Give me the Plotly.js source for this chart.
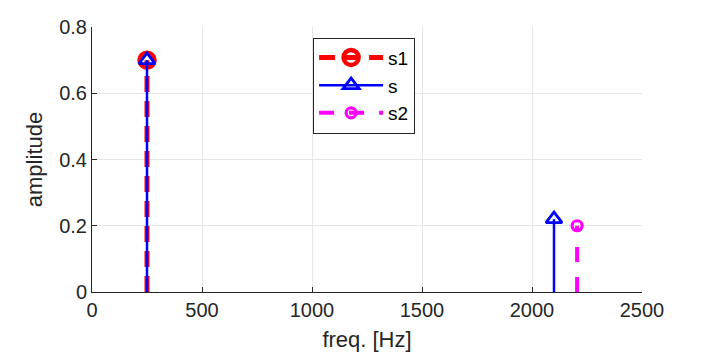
<!DOCTYPE html>
<html>
<head>
<meta charset="utf-8">
<script src="https://cdn.plot.ly/plotly-3.0.1.min.js"></script>
<style>html,body{margin:0;padding:0;background:#fff;}#chart{width:709px;height:354px;}</style>
</head>
<body>
<div id="chart"></div>
<script>
// Data
const seriesNames = ["s1", "s", "s2"];
const freqS1 = [250];
const ampS1 = [0.7];
const freqS = [250, 2100];
const ampS = [0.7, 0.22];
const freqS2 = [2205];
const ampS2 = [0.2];
const xTicks = [0, 500, 1000, 1500, 2000, 2500];
const yTicks = [0, 0.2, 0.4, 0.6, 0.8];

function stemXY(xs, ys) {
  const sx = [], sy = [];
  xs.forEach((x, i) => { sx.push(x, x, null); sy.push(0, ys[i], null); });
  return {x: sx, y: sy};
}
function gapXY(xs, ys) {
  const gx = [], gy = [];
  xs.forEach((x, i) => { gx.push(x, null); gy.push(ys[i], null); });
  return {x: gx, y: gy};
}

const styles = [
  {color: "#ff0000", width: 5, dash: "16px,9px", symbol: "circle-open", size: 15, mlw: 4.5},
  {color: "#0000ff", width: 2.5, dash: "solid", symbol: "triangle-up-open", size: 14, mlw: 2.8},
  {color: "#ff00ff", width: 4, dash: "15px,15px", symbol: "circle-open", size: 10, mlw: 3.2}
];
const sets = [[freqS1, ampS1], [freqS, ampS], [freqS2, ampS2]];

const traces = [];
sets.forEach((d, i) => {
  const st = styles[i];
  const stem = stemXY(d[0], d[1]);
  traces.push({
    x: stem.x, y: stem.y, type: "scatter", mode: "lines",
    line: {color: st.color, width: st.width, dash: st.dash},
    showlegend: false, hoverinfo: "skip", cliponaxis: true
  });
  const pts = gapXY(d[0], d[1]);
  traces.push({
    x: pts.x, y: pts.y, type: "scatter", mode: "lines+markers",
    name: seriesNames[i], connectgaps: false,
    line: {color: st.color, width: st.width, dash: st.dash},
    marker: {symbol: st.symbol, size: st.size, color: st.color, line: {color: st.color, width: st.mlw}},
    cliponaxis: false
  });
});

const axisCommon = {
  showline: true, linecolor: "#262626", linewidth: 1,
  ticks: "inside", ticklen: 5, tickwidth: 1, tickcolor: "#262626",
  showgrid: true, gridcolor: "#e6e6e6", gridwidth: 1, zeroline: false,
  tickfont: {family: "Liberation Sans, Arial, sans-serif", size: 20, color: "#262626"},
  fixedrange: true
};

const layout = {
  width: 709, height: 354,
  margin: {l: 92, r: 67, t: 27, b: 62},
  paper_bgcolor: "#ffffff", plot_bgcolor: "#ffffff",
  font: {family: "Liberation Sans, Arial, sans-serif", color: "#262626"},
  xaxis: Object.assign({}, axisCommon, {
    range: [0, 2500], tickvals: xTicks, ticktext: xTicks.map(String),
    title: {text: "freq. [Hz]", font: {size: 22, color: "#262626"}, standoff: 11}
  }),
  yaxis: Object.assign({}, axisCommon, {
    range: [0, 0.8], tickvals: yTicks, ticktext: yTicks.map(String),
    title: {text: "amplitude", font: {size: 22, color: "#262626"}, standoff: 10}
  }),
  legend: {
    x: 0.402, y: 0.96, xanchor: "left", yanchor: "top",
    bgcolor: "#ffffff", bordercolor: "#262626", borderwidth: 1,
    font: {family: "Liberation Sans, Arial, sans-serif", size: 19, color: "#000000"},
    tracegroupgap: 0, itemwidth: 64
  },
  showlegend: true
};

Plotly.newPlot("chart", traces, layout, {displayModeBar: false, staticPlot: true});
</script>
</body>
</html>
